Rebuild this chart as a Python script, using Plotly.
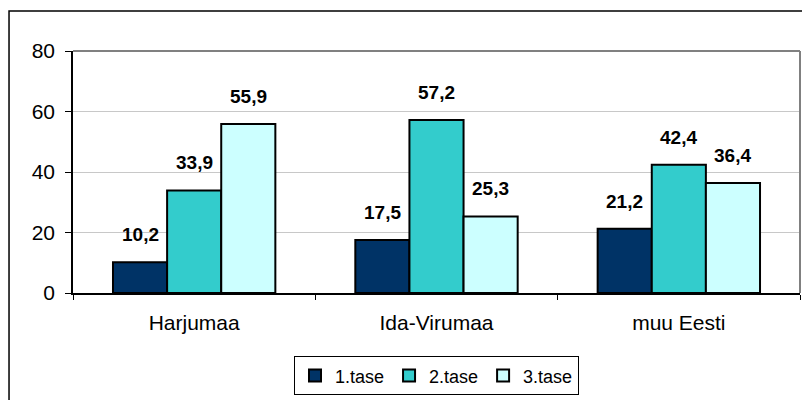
import plotly.graph_objects as go

# data
regions = ["Harjumaa", "Ida-Virumaa", "muu Eesti"]
series_names = ["1.tase", "2.tase", "3.tase"]
tase1 = [10.2, 17.5, 21.2]
tase2 = [33.9, 57.2, 42.4]
tase3 = [55.9, 25.3, 36.4]
colors = ["#003366", "#33CCCC", "#CCFFFF"]

font = "Liberation Sans, Arial, sans-serif"

fig = go.Figure()

# one bar trace per level
for name, vals, col in zip(series_names, [tase1, tase2, tase3], colors):
    fig.add_trace(go.Bar(
        x=regions,
        y=vals,
        name=name,
        marker=dict(color=col, line=dict(color="black", width=2)),
    ))

# value labels, shifted over each bar of the group
shifts = [-54, 0, 54]
for vals, dx in zip([tase1, tase2, tase3], shifts):
    for reg, v in zip(regions, vals):
        fig.add_annotation(
            x=reg, y=v, text=f"{v:.1f}".replace(".", ","),
            xshift=dx, yshift=15, yanchor="bottom", showarrow=False,
            font=dict(family=font, size=19, color="black", weight="bold"),
        )

# plot area border (grey top + right) and outer chart frame
fig.add_shape(type="line", xref="paper", yref="paper", x0=0, x1=1, y0=1, y1=1,
              line=dict(color="#808080", width=2))
fig.add_shape(type="line", xref="paper", yref="paper", x0=1, x1=1, y0=0, y1=1,
              line=dict(color="#808080", width=2))
fig.add_shape(type="rect", xref="paper", yref="paper",
              x0=-0.088, x1=1.2, y0=-0.6, y1=1.165,
              line=dict(color="black", width=1.5))

# page body has an 8px margin, so the figure is sized to fit the window
fig.update_layout(
    width=802,
    height=392,
    margin=dict(l=65, r=10, t=43, b=107),
    paper_bgcolor="white",
    plot_bgcolor="white",
    barmode="group",
    bargap=0.33,
    bargroupgap=0,
    font=dict(family=font, size=21, color="black"),
    showlegend=True,
    legend=dict(
        orientation="h",
        x=0.5, xanchor="center",
        yref="container",
        y=0.012, yanchor="bottom",
        bordercolor="black", borderwidth=1,
        font=dict(size=18),
        itemwidth=30,
        tracegroupgap=0,
    ),
)

fig.update_yaxes(
    range=[0, 80], dtick=20,
    showgrid=True, gridcolor="#c8c8c8", gridwidth=1,
    showline=True, linecolor="black", linewidth=1.5,
    ticks="outside", ticklen=6, tickcolor="black",
    ticklabelstandoff=6, zeroline=False, automargin=False,
)
fig.update_xaxes(
    showline=True, linecolor="black", linewidth=1.5,
    ticks="outside", ticklen=5, tickcolor="black",
    tickson="boundaries", ticklabelstandoff=10, automargin=False,
)

fig.write_html("out.html")
